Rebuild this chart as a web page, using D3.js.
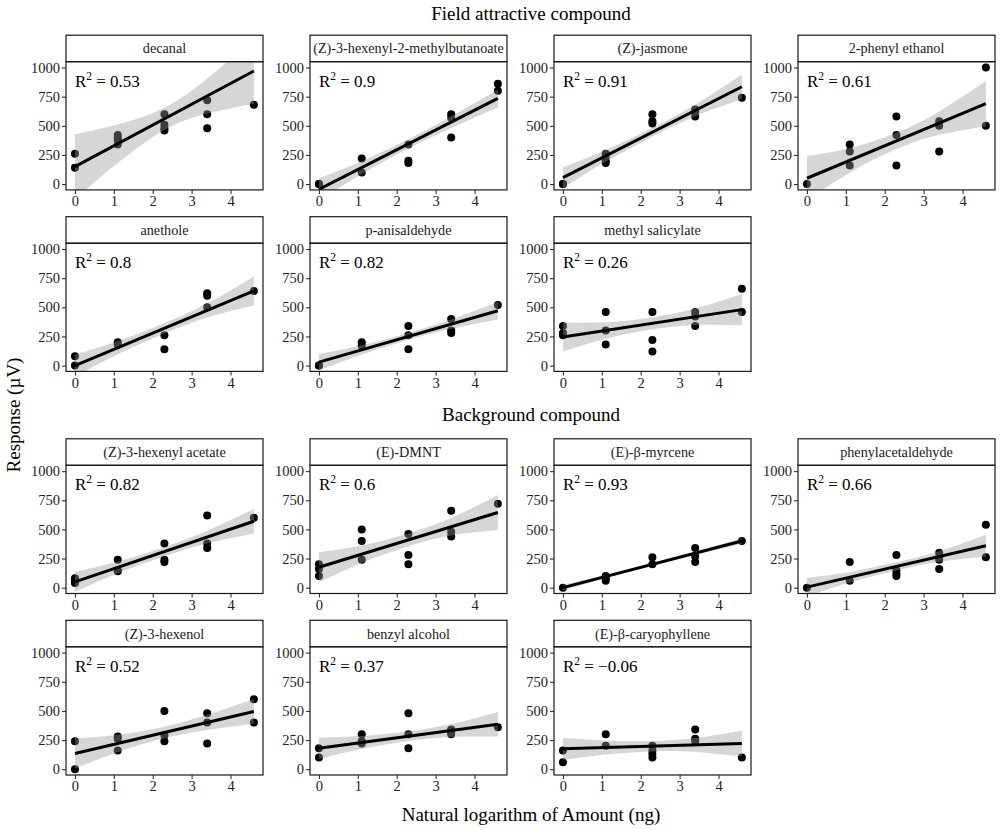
<!DOCTYPE html>
<html>
<head>
<meta charset="utf-8">
<script src="https://cdn.jsdelivr.net/npm/d3@7"></script>
<style>
  body { margin: 0; background: #fff; }
  svg { display: block; font-family: "Liberation Serif", "Times New Roman", serif; }
</style>
</head>
<body>
<svg id="chart" width="1000" height="830"></svg>
<script>
// ---- data ----
const groupTitles = ["Field attractive compound", "Background compound"];

const compounds = [
  "decanal", "(Z)-3-hexenyl-2-methylbutanoate", "(Z)-jasmone", "2-phenyl ethanol",
  "anethole", "p-anisaldehyde", "methyl salicylate",
  "(Z)-3-hexenyl acetate", "(E)-DMNT", "(E)-β-myrcene", "phenylacetaldehyde",
  "(Z)-3-hexenol", "benzyl alcohol", "(E)-β-caryophyllene",
];

const r2Labels = ["0.53", "0.9", "0.91", "0.61", "0.8", "0.82", "0.26",
                  "0.82", "0.6", "0.93", "0.66", "0.52", "0.37", "\u22120.06"];

// ln(amount) levels: ln 1, ln 3, ln 10, ln 30, ln 100
const lnAmount = [0, 1.1, 2.3, 3.4, 4.6];

// responses (µV) at each level, one list per compound
const responses = [
  [[260, 140], [420, 400, 380, 340], [600, 510, 480, 460], [720, 600, 480], [680]],
  [[0, 0], [220, 100], [340, 200, 180], [600, 570, 400], [860, 800]],
  [[0, 0], [260, 240, 200, 180], [600, 540, 520], [640, 620, 580], [740]],
  [[0], [340, 280, 160], [580, 420, 160], [540, 500, 280], [1000, 500]],
  [[80, 0], [200, 180], [260, 140], [620, 600, 500], [640]],
  [[0, 0], [200, 170], [340, 260, 140], [400, 300, 280], [520]],
  [[340, 280, 260], [460, 300, 180], [460, 220, 120], [460, 420, 340], [660, 460]],
  [[80, 60, 40], [240, 150, 140], [380, 240, 220], [620, 380, 340], [600]],
  [[200, 160, 100], [500, 400, 240], [460, 280, 200], [660, 480, 440], [720]],
  [[0], [100, 80, 60], [260, 200], [340, 270, 220], [400]],
  [[0], [220, 60], [280, 150, 120, 100], [300, 260, 240, 160], [540, 260]],
  [[240, 0], [280, 260, 160], [500, 290, 240], [480, 400, 220], [600, 400]],
  [[180, 100], [300, 240, 220], [480, 300, 180], [340, 320, 300], [360]],
  [[160, 60], [300, 200], [200, 160, 130, 100], [340, 260, 240], [100]],
];

// fitted line at ln 1 and ln 100
const fitStart = [150, -45, 55, 50, 0, 30, 245, 50, 175, 0, 5, 135, 180, 175];
const fitEnd   = [970, 735, 835, 690, 640, 470, 480, 570, 645, 400, 360, 495, 385, 220];

// half width of the 95% band at each level
const bandHalf = [
  [278, 166, 95, 150, 280],
  [95, 55, 40, 50, 75],
  [90, 50, 38, 50, 105],
  [190, 105, 70, 100, 195],
  [95, 55, 45, 60, 125],
  [72, 40, 30, 40, 75],
  [125, 70, 50, 70, 135],
  [85, 50, 40, 55, 105],
  [130, 75, 55, 75, 150],
  [25, 15, 12, 15, 25],
  [80, 45, 35, 45, 95],
  [130, 75, 50, 65, 105],
  [90, 55, 40, 55, 105],
  [95, 60, 45, 60, 110],
];

const yTicks = [0, 250, 500, 750, 1000];
const xTicks = [0, 1, 2, 3, 4];

// ---- layout ----
const colLeft = [66, 310, 554, 798];
const rowTop  = [61.7, 243.2, 465.3, 646.8];
const panelW = 197, panelH = 128.2, stripH = 26.5;

const svg = d3.select("#chart");

const x = d3.scaleLinear().domain([-0.23, 4.835]).range([0, panelW]);
const y = d3.scaleLinear().domain([-50, 1050]).range([panelH, 0]);

// group and axis titles
svg.append("text").attr("x", 531).attr("y", 20).attr("text-anchor", "middle")
  .attr("font-size", 19).text(groupTitles[0]);
svg.append("text").attr("x", 531).attr("y", 421).attr("text-anchor", "middle")
  .attr("font-size", 19).text(groupTitles[1]);
svg.append("text").attr("x", 531).attr("y", 821).attr("text-anchor", "middle")
  .attr("font-size", 19).text("Natural logarithm of Amount (ng)");
svg.append("text").attr("transform", "translate(20,415) rotate(-90)")
  .attr("text-anchor", "middle").attr("font-size", 19).text("Response (µV)");

compounds.forEach((name, i) => {
  const group = i < 7 ? 0 : 1;
  const k = i - group * 7;
  const row = group * 2 + Math.floor(k / 4);
  const col = k % 4;

  const g = svg.append("g")
    .attr("transform", `translate(${colLeft[col]},${rowTop[row]})`);

  const clipId = `clip${i}`;
  g.append("clipPath").attr("id", clipId)
    .append("rect").attr("width", panelW).attr("height", panelH);

  // strip
  g.append("rect").attr("y", -stripH).attr("width", panelW).attr("height", stripH)
    .attr("fill", "#fff").attr("stroke", "#1a1a1a").attr("stroke-width", 1.2);
  g.append("text").attr("x", panelW / 2).attr("y", -stripH / 2).attr("dy", "0.35em")
    .attr("text-anchor", "middle").attr("font-size", 14.2).attr("fill", "#1a1a1a")
    .text(name);

  // axes
  const ya = g.append("g")
    .call(d3.axisLeft(y).tickValues(yTicks).tickFormat(d3.format("d"))
      .tickSize(4).tickPadding(2));
  const xa = g.append("g").attr("transform", `translate(0,${panelH})`)
    .call(d3.axisBottom(x).tickValues(xTicks).tickFormat(d3.format("d"))
      .tickSize(4).tickPadding(2));
  [ya, xa].forEach(a => {
    a.attr("font-family", null).attr("font-size", null);
    a.select(".domain").remove();
    a.selectAll(".tick line").attr("stroke", "#333").attr("stroke-width", 1.1);
    a.selectAll(".tick text").attr("font-size", 14.5).attr("fill", "#222");
  });

  const plot = g.append("g").attr("clip-path", `url(#${clipId})`);

  // points
  const pts = [];
  responses[i].forEach((vals, j) => vals.forEach(v => pts.push({ x: lnAmount[j], y: v })));
  plot.selectAll("circle").data(pts).join("circle")
    .attr("cx", d => x(d.x)).attr("cy", d => y(d.y)).attr("r", 4)
    .attr("fill", "#000");

  // fit line and band
  const lineAt = xv => fitStart[i] + (fitEnd[i] - fitStart[i]) * (xv - lnAmount[0]) /
    (lnAmount[lnAmount.length - 1] - lnAmount[0]);
  const band = lnAmount.map((xv, j) => ({
    x: xv, lo: lineAt(xv) - bandHalf[i][j], hi: lineAt(xv) + bandHalf[i][j],
  }));
  plot.append("path").datum(band)
    .attr("d", d3.area().x(d => x(d.x)).y0(d => y(d.lo)).y1(d => y(d.hi))
      .curve(d3.curveNatural))
    .attr("fill", "#999").attr("fill-opacity", 0.4);

  const ends = [lnAmount[0], lnAmount[lnAmount.length - 1]];
  plot.append("path").datum(ends)
    .attr("d", d3.line().x(d => x(d)).y(d => y(lineAt(d))))
    .attr("stroke", "#000").attr("stroke-width", 3).attr("fill", "none");

  // R² label
  const t = g.append("text").attr("x", x(0)).attr("y", y(835))
    .attr("font-size", 17).attr("fill", "#000");
  t.append("tspan").text("R");
  t.append("tspan").attr("font-size", 11.5).attr("dy", -7).text("2");
  t.append("tspan").attr("dy", 7).text(" = " + r2Labels[i]);

  // panel border
  g.append("rect").attr("width", panelW).attr("height", panelH)
    .attr("fill", "none").attr("stroke", "#1a1a1a").attr("stroke-width", 1.2);
});
</script>
</body>
</html>
